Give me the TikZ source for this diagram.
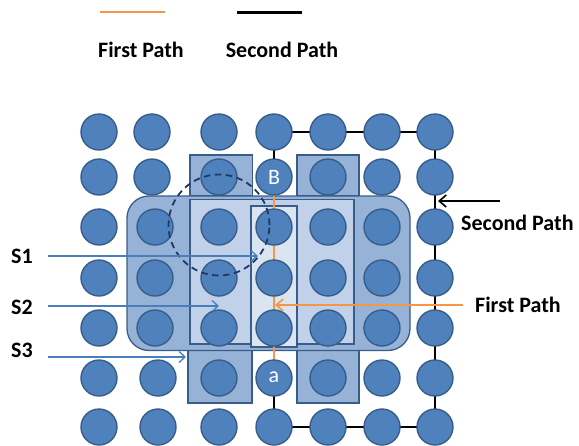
\documentclass[tikz,border=0pt]{standalone}
\usepackage{fontspec}
\setmainfont{Carlito}
\usetikzlibrary{arrows.meta}
\definecolor{circfill}{RGB}{79,129,189}
\definecolor{circline}{RGB}{56,93,138}
\definecolor{boxmid}{RGB}{150,179,215}
\definecolor{boxlight}{RGB}{192,209,233}
\definecolor{boxlighter}{RGB}{219,229,242}
\definecolor{pathorange}{RGB}{247,150,70}
\definecolor{arrowblue}{RGB}{74,126,187}
\definecolor{dashnavy}{RGB}{31,56,100}
\pgfdeclarelayer{back}
\pgfdeclarelayer{mid}
\pgfsetlayers{back,mid,main}
\tikzset{
  dot/.style={circle, minimum size=36pt, inner sep=0pt, fill=circfill, draw=circline, line width=1.4pt},
  boxstyle/.style={draw=circline, line width=1.3pt},
  lbl/.style={font=\fontsize{22}{25}\selectfont\bfseries, inner sep=0pt, text=black},
  inlbl/.style={font=\fontsize{22}{24}\selectfont, text=white, inner sep=0pt},
  firstpath/.style={draw=pathorange, line width=2.4pt},
  secondpath/.style={draw=black, line width=2.4pt},
  sarrow/.style={draw=arrowblue, line width=1.3pt, -{Straight Barb[length=6pt,width=11pt,line width=1.3pt]}},
  pointer/.style={line width=1.6pt, -{Straight Barb[length=7pt,width=12pt,line width=1.6pt]}},
  dashring/.style={draw=dashnavy, line width=1.8pt, dash pattern=on 6.5pt off 4.5pt}
}
\begin{document}
\begin{tikzpicture}[x=1pt,y=-1pt]
\useasboundingbox (0,0) rectangle (579,445);
% circles
\foreach \r/\y in {1/132,2/177,3/227,4/278,5/328,6/378,7/427} {
  \foreach \c/\x in {1/99,2/155,3/219,4/274,5/328,6/382,7/435} {
    \pgfmathsetmacro\xx{\c==2 ? (\r<3 ? 152 : (\r>5 ? 158 : 155)) : \x}
    \node[dot] (c-\r-\c) at (\xx,\y) {};
  }
}
\node[inlbl] (lB) at (c-2-4) {B};
\node[inlbl] (la) at ([yshift=1pt]c-6-4) {a};
% boxes
\begin{pgfonlayer}{back}
  \filldraw[boxstyle, fill=boxmid] (190,155) rectangle (252.5,195.5);
  \filldraw[boxstyle, fill=boxmid] (297,155) rectangle (359,195.5);
  \filldraw[boxstyle, fill=boxmid] (188,350.5) rectangle (252,403);
  \filldraw[boxstyle, fill=boxmid] (297,350.5) rectangle (359,403);
  \filldraw[boxstyle, fill=boxmid, rounded corners=22pt] (127,196) rectangle (410,350.5);
  \filldraw[boxstyle, fill=boxlight] (190,199.5) rectangle (354,344);
  \filldraw[boxstyle, fill=boxlighter] (251,206) rectangle (297,347);
\end{pgfonlayer}
% paths
\begin{pgfonlayer}{mid}
  \draw[firstpath] (c-2-4.center) -- (c-6-4.center);
  \draw[secondpath] (c-6-4.center) -- (c-7-4.center) -- (c-7-7.center) -- (c-1-7.center) -- (c-1-4.center) -- (c-2-4.center);
\end{pgfonlayer}
% dashed ring
\node[dashring, circle, minimum size=101pt, inner sep=0pt] (ring) at (219,225) {};
% side labels and arrows
\node[lbl] (s1) at (22,256) {S1};
\node[lbl] (s2) at (22,307) {S2};
\node[lbl] (s3) at (22,350) {S3};
\coordinate (s1a) at (48,256);   \coordinate (s1b) at (258,256);
\coordinate (s2a) at (48,306);   \coordinate (s2b) at (219,306);
\coordinate (s3a) at (48,357);   \coordinate (s3b) at (186,357);
\draw[sarrow] (s1a) -- (s1b);
\draw[sarrow] (s2a) -- (s2b);
\draw[sarrow] (s3a) -- (s3b);
% right labels
\node[lbl, anchor=west] (sp) at (461,223) {Second Path};
\node[lbl, anchor=west] (fp) at (475,305) {First Path};
\coordinate (spa) at (500,201); \coordinate (spb) at (438,201);
\draw[pointer, draw=black] (spa) -- (spb);
\coordinate (fpa) at (463,305); \coordinate (fpb) at (275,305);
\draw[pointer, draw=pathorange] (fpa) -- (fpb);
% legend
\coordinate (lo1) at (100,12); \coordinate (lo2) at (165,12);
\coordinate (lk1) at (237,12); \coordinate (lk2) at (302,12);
\draw[draw=pathorange, line width=2.8pt] (lo1) -- (lo2);
\draw[draw=black, line width=3pt] (lk1) -- (lk2);
\node[lbl] (lg1) at (141,50) {First Path};
\node[lbl] (lg2) at (282,50) {Second Path};
\end{tikzpicture}
\end{document}
